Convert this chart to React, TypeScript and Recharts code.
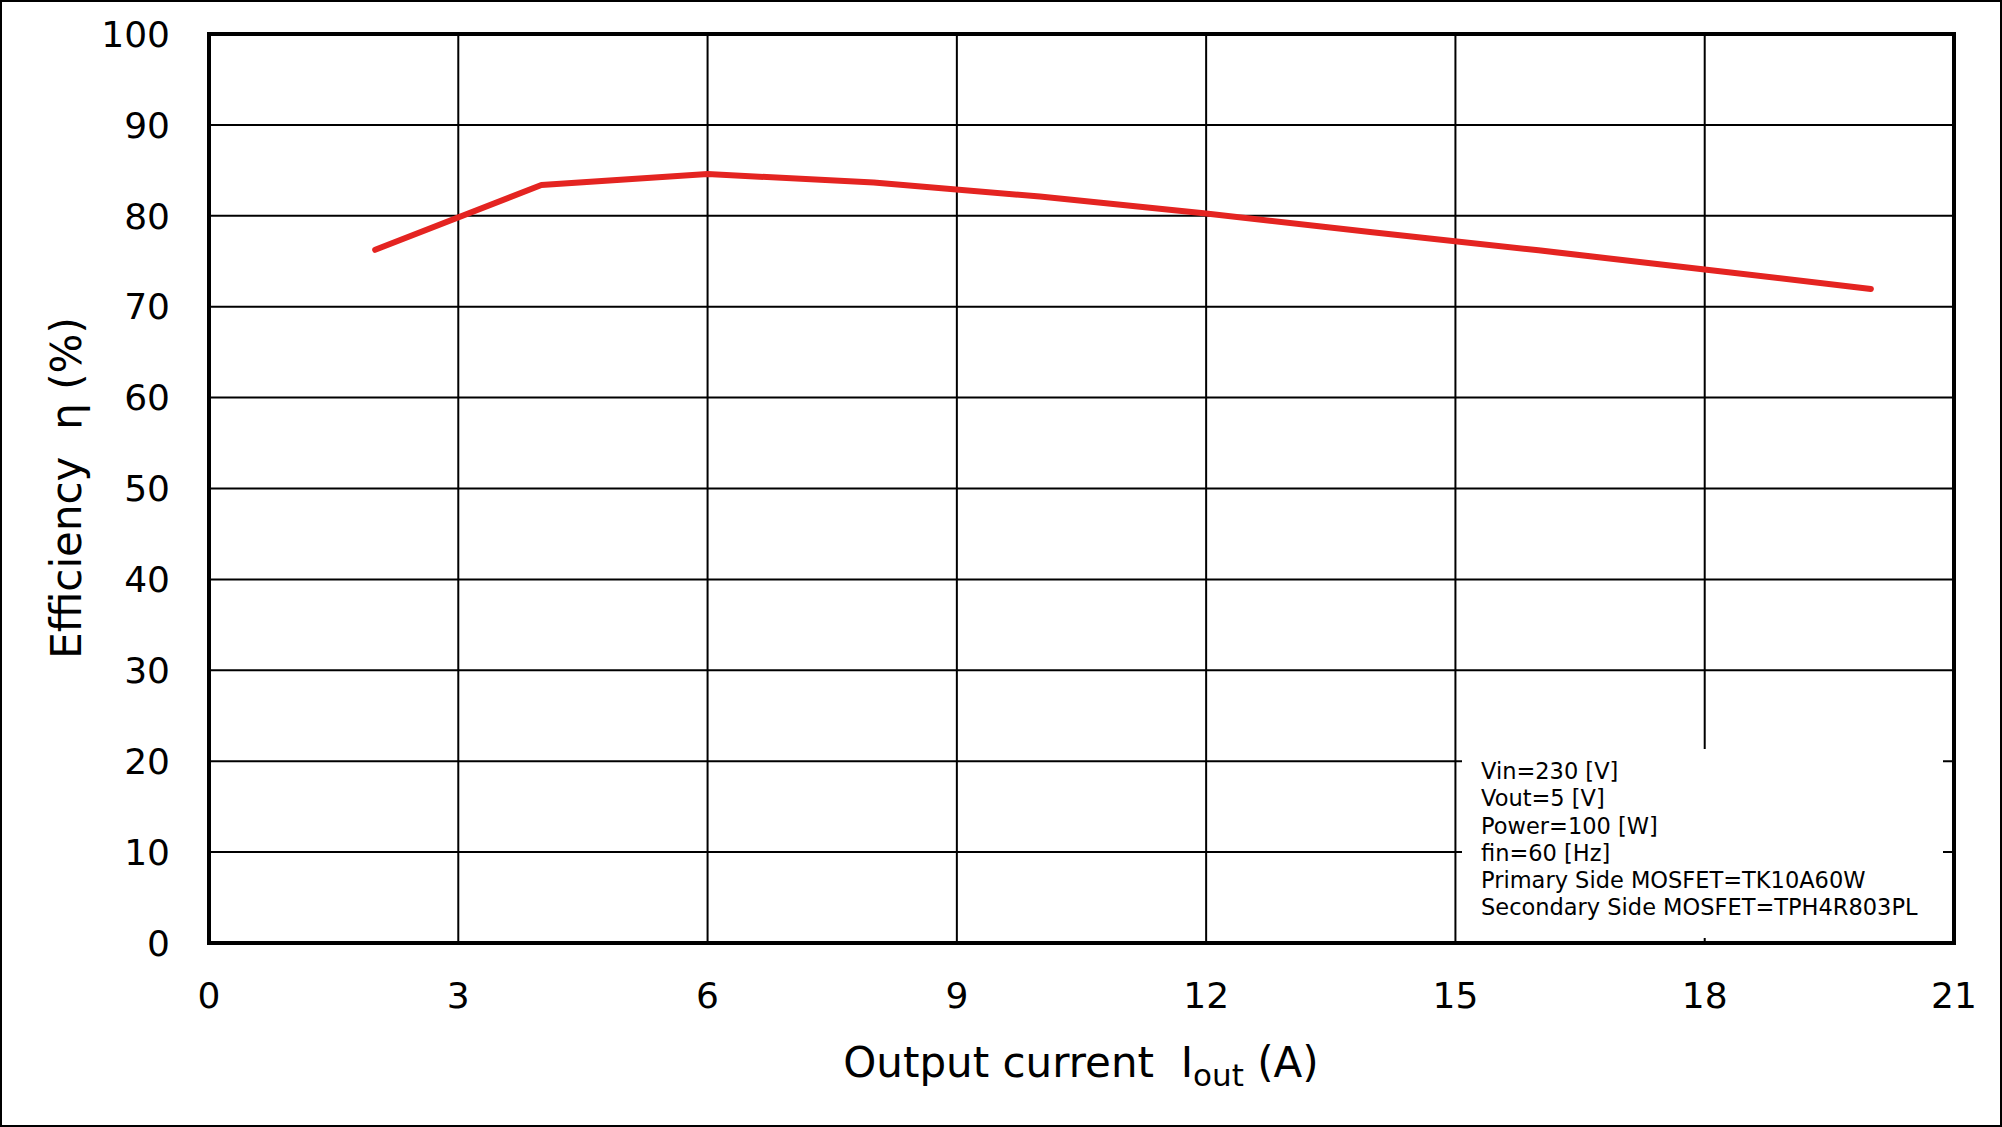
import React from 'react';
import { LineChart, Line, XAxis, YAxis, CartesianGrid, ReferenceArea } from 'recharts';

const currentA = [2, 4, 6, 8, 10, 12, 14, 16, 18, 20];
const efficiencyPct = [76.26, 83.38, 84.59, 83.66, 82.12, 80.25, 78.2, 76.2, 74.1, 71.95];
const xTicks = [0, 3, 6, 9, 12, 15, 18, 21];
const yTicks = [0, 10, 20, 30, 40, 50, 60, 70, 80, 90, 100];
const conditions = [
  'Vin=230 [V]',
  'Vout=5 [V]',
  'Power=100 [W]',
  'fin=60 [Hz]',
  'Primary Side MOSFET=TK10A60W',
  'Secondary Side MOSFET=TPH4R803PL',
];

const data = currentA.map((x, i) => ({ x, y: efficiencyPct[i] }));

const FONT = '"DejaVu Sans", Verdana, sans-serif';

export default function App() {
  return (
    <div
      style={{
        position: 'absolute',
        left: 0,
        top: 0,
        width: 2002,
        height: 1127,
        background: '#fff',
        fontFamily: FONT,
      }}
    >
      <LineChart
        width={2002}
        height={1127}
        data={data}
        margin={{ top: 34, right: 48, bottom: 84, left: 109 }}
      >
        <CartesianGrid stroke="#000" strokeWidth={2} />
        <XAxis
          dataKey="x"
          type="number"
          domain={[0, 21]}
          ticks={xTicks}
          height={100}
          tickSize={0}
          tickMargin={39}
          axisLine={false}
          tickLine={false}
          tick={{ fill: '#000', fontSize: 36, fontFamily: FONT }}
          interval={0}
        />
        <YAxis
          type="number"
          domain={[0, 100]}
          ticks={yTicks}
          width={100}
          tickSize={0}
          tickMargin={39}
          axisLine={false}
          tickLine={false}
          tick={{ fill: '#000', fontSize: 36, fontFamily: FONT }}
          interval={0}
        />
        <ReferenceArea x1={0} x2={21} y1={0} y2={100} fill="none" stroke="#000" strokeWidth={4} />
        <Line
          type="linear"
          dataKey="y"
          stroke="#e42421"
          strokeWidth={6}
          strokeLinecap="round"
          strokeLinejoin="round"
          dot={false}
          isAnimationActive={false}
        />
      </LineChart>

      {/* conditions box */}
      <div
        style={{
          position: 'absolute',
          left: 1462,
          top: 749,
          width: 481,
          height: 189,
          background: '#fff',
        }}
      />
      <div
        style={{
          position: 'absolute',
          left: 1481,
          top: 758,
          fontSize: 22.5,
          lineHeight: '27.3px',
          color: '#000',
          whiteSpace: 'nowrap',
        }}
      >
        {conditions.map((c) => (
          <div key={c}>{c}</div>
        ))}
      </div>

      {/* x axis title */}
      <div
        style={{
          position: 'absolute',
          left: 0,
          width: 2162,
          top: 1035,
          textAlign: 'center',
          fontSize: 42,
          lineHeight: '56px',
          color: '#000',
          whiteSpace: 'nowrap',
        }}
      >
        Output current&nbsp;&nbsp;I<sub style={{ fontSize: 31, verticalAlign: '-0.3em', lineHeight: 0 }}>out</sub> (A)
      </div>

      {/* y axis title */}
      <div
        style={{
          position: 'absolute',
          left: 66,
          top: 488,
          transform: 'translate(-50%, -50%) rotate(-90deg)',
          fontSize: 42,
          color: '#000',
          whiteSpace: 'nowrap',
        }}
      >
        Efficiency&nbsp;&nbsp;η (%)
      </div>

      {/* outer frame */}
      <div
        style={{
          position: 'absolute',
          left: 0,
          top: 0,
          width: 2002,
          height: 1127,
          boxSizing: 'border-box',
          border: '2px solid #000',
          pointerEvents: 'none',
        }}
      />
    </div>
  );
}
